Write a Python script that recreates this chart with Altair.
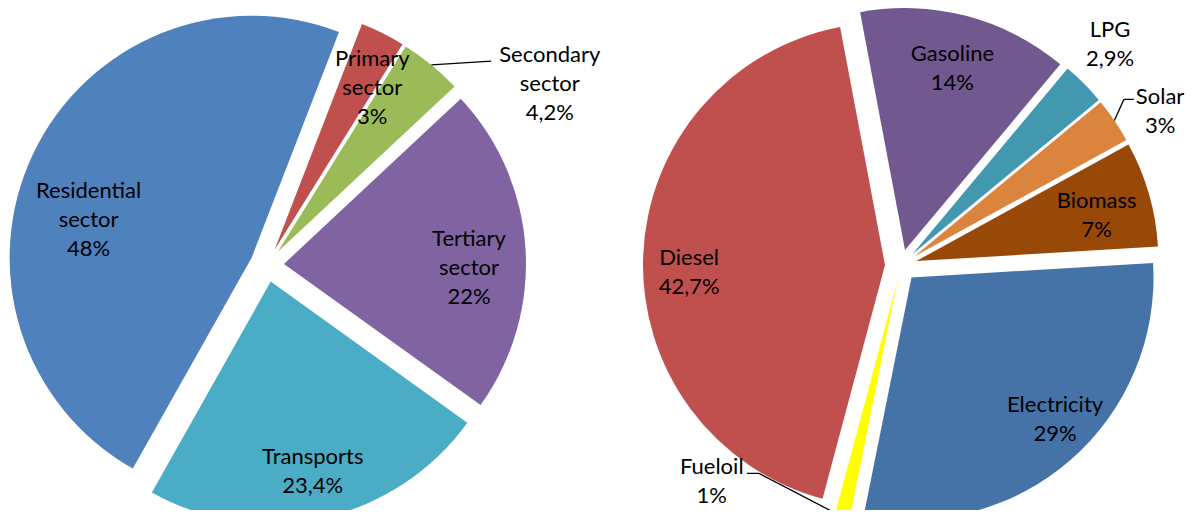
import altair as alt
import pandas as pd

# ---------------- data ----------------
sector_cats = ["Residential sector", "Primary sector", "Secondary sector",
               "Tertiary sector", "Transports"]
sector_vals = [48, 3, 4.2, 22, 23.4]

fuel_cats = ["Gasoline", "LPG", "Solar", "Biomass", "Electricity", "Fueloil", "Diesel"]
fuel_vals = [14, 2.9, 3, 7, 29, 1, 42.7]

# ---------------- styles / layout ----------------
sector_colors = ["#4F81BD", "#C0504D", "#9BBB59", "#8064A2", "#4BACC6"]
fuel_colors = ["#71588F", "#4198AF", "#DB843D", "#984807", "#4572A7", "#FFFF00", "#C0504D"]

W, H = 1177, 502
R = 242
LINE_H = 29
PIES = {
    "sectors": dict(pcx=259, pcy=257, start=209.4, explode=17),
    "fuels": dict(pcx=893, pcy=257.5, start=349.3, explode=16),
}
# label placement: (radius from pie centre, angular nudge from slice mid-angle in degrees)
LABELS = {
    "Residential sector": (184, -11.1), "Primary sector": (206, 4.2),
    "Secondary sector": (336, 17.9), "Tertiary sector": (202, 4.6),
    "Transports": (212, 0), "Gasoline": (204, 0), "LPG": (304, -1.7),
    "Solar": (301.6, 3.4), "Biomass": (202, 1.7), "Electricity": (218, -3.9),
    "Fueloil": (287, 28.1), "Diesel": (212, -4.1),
}
# leader lines: elbow and end, each (radius, nudge degrees)
LEADERS = {
    "Secondary sector": ((303, 8.3), (303, 8.3)),
    "Solar": ((278, -2.5), (286, -1.3)),
    "Fueloil": ((251.8, 21.2), (258.8, 23.4)),
}

rows = []
for pie, cats, vals in (("sectors", sector_cats, sector_vals), ("fuels", fuel_cats, fuel_vals)):
    for i, (c, v) in enumerate(zip(cats, vals)):
        lr, lda = LABELS[c]
        row = dict(pie=pie, cat=c, value=v, ord=i, lab_r=lr, lab_da=lda, **PIES[pie])
        if c in LEADERS:
            (er, eda), (nr, nda) = LEADERS[c]
            row.update(elb_r=er, elb_da=eda, end_r=nr, end_da=nda)
        rows.append(row)
df = pd.DataFrame(rows)

all_cats = sector_cats + fuel_cats
all_colors = sector_colors + fuel_colors

base = alt.Chart(df).transform_window(
    cum="sum(value)", groupby=["pie"], sort=[alt.SortField("ord", order="ascending")],
    frame=[None, 0]
).transform_joinaggregate(
    total="sum(value)", groupby=["pie"]
).transform_calculate(
    a0="datum.start*PI/180 + 2*PI*(datum.cum - datum.value)/datum.total",
    a1="datum.start*PI/180 + 2*PI*datum.cum/datum.total",
    label="replace(datum.cat, ' ', '|') + '|' + replace(toString(datum.value), '.', ',') + '%'",
).transform_calculate(
    mid="(datum.a0 + datum.a1)/2",
    nlines="length(split(datum.label, '|'))",
).transform_calculate(
    sx="datum.pcx + datum.explode*sin(datum.mid)",
    sy="datum.pcy - datum.explode*cos(datum.mid)",
    lx="datum.pcx + datum.lab_r*sin(datum.mid + datum.lab_da*PI/180)",
    ly="datum.pcy - datum.lab_r*cos(datum.mid + datum.lab_da*PI/180) - (datum.nlines - 1)*" + str(LINE_H) + "/2",
)

arcs = base.mark_arc(radius=R, innerRadius=0).encode(
    x=alt.X("sx:Q", scale=None, axis=None),
    y=alt.Y("sy:Q", scale=None, axis=None),
    theta=alt.Theta("a0:Q", scale=None, stack=None),
    theta2=alt.Theta2("a1:Q"),
    color=alt.Color("cat:N", scale=alt.Scale(domain=all_cats, range=all_colors), legend=None),
)

labels = base.mark_text(
    font="Lato", fontSize=22, lineBreak="|", lineHeight=LINE_H,
    align="center", baseline="middle", color="#000000"
).encode(
    x=alt.X("lx:Q", scale=None, axis=None),
    y=alt.Y("ly:Q", scale=None, axis=None),
    text="label:N",
)

lead = base.transform_filter("isValid(datum.elb_r)").transform_calculate(
    ax="datum.sx + " + str(R) + "*sin(datum.mid)",
    ay="datum.sy - " + str(R) + "*cos(datum.mid)",
    bx="datum.pcx + datum.elb_r*sin(datum.mid + datum.elb_da*PI/180)",
    by="datum.pcy - datum.elb_r*cos(datum.mid + datum.elb_da*PI/180)",
    cx2="datum.pcx + datum.end_r*sin(datum.mid + datum.end_da*PI/180)",
    cy2="datum.pcy - datum.end_r*cos(datum.mid + datum.end_da*PI/180)",
)
seg1 = lead.mark_rule(color="#000000", strokeWidth=1.3).encode(
    x=alt.X("ax:Q", scale=None, axis=None), y=alt.Y("ay:Q", scale=None, axis=None),
    x2="bx:Q", y2="by:Q",
)
seg2 = lead.mark_rule(color="#000000", strokeWidth=1.3).encode(
    x=alt.X("bx:Q", scale=None, axis=None), y=alt.Y("by:Q", scale=None, axis=None),
    x2="cx2:Q", y2="cy2:Q",
)

chart = alt.layer(arcs, seg1, seg2, labels).properties(
    width=W, height=H, padding=0, autosize=alt.AutoSizeParams(type="none"),
    background="white",
).configure_view(stroke=None)

chart.save("out.html", embed_options={"renderer": "svg", "actions": False})
